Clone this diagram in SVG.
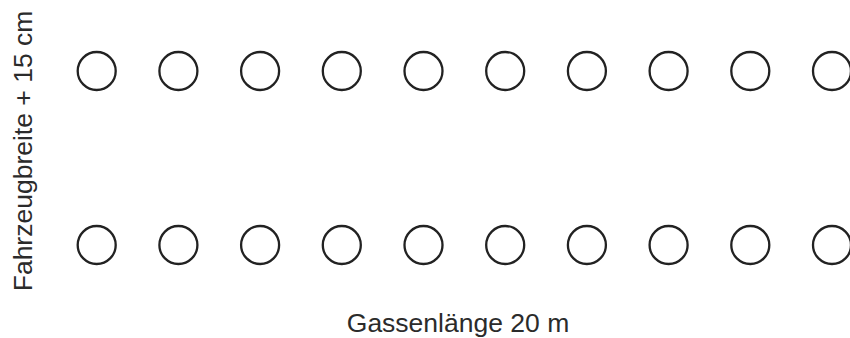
<svg xmlns="http://www.w3.org/2000/svg" width="850" height="338" viewBox="0 0 850 338">
<style>
.c{fill:none;stroke:#222;stroke-width:2.3}
.t{font-family:"Liberation Sans",Arial,sans-serif;font-size:26.5px;fill:#2b2b2b}
</style>
<rect width="850" height="338" fill="#fff"/>
<defs><circle id="p" r="19" class="c"/></defs>
<g id="row-top">
<use href="#p" x="96.7" y="71"/>
<use href="#p" x="178.4" y="71"/>
<use href="#p" x="260.1" y="71"/>
<use href="#p" x="341.8" y="71"/>
<use href="#p" x="423.5" y="71"/>
<use href="#p" x="505.2" y="71"/>
<use href="#p" x="586.9" y="71"/>
<use href="#p" x="668.6" y="71"/>
<use href="#p" x="750.3" y="71"/>
<use href="#p" x="832" y="71"/>
</g>
<g id="row-bottom">
<use href="#p" x="96.7" y="245"/>
<use href="#p" x="178.4" y="245"/>
<use href="#p" x="260.1" y="245"/>
<use href="#p" x="341.8" y="245"/>
<use href="#p" x="423.5" y="245"/>
<use href="#p" x="505.2" y="245"/>
<use href="#p" x="586.9" y="245"/>
<use href="#p" x="668.6" y="245"/>
<use href="#p" x="750.3" y="245"/>
<use href="#p" x="832" y="245"/>
</g>
<g id="labels">
<text class="t" x="458" y="331.5" text-anchor="middle">Gassenlänge 20 m</text>
<text class="t" transform="translate(31.5,151) rotate(-90)" text-anchor="middle">Fahrzeugbreite + 15 cm</text>
</g>
</svg>
